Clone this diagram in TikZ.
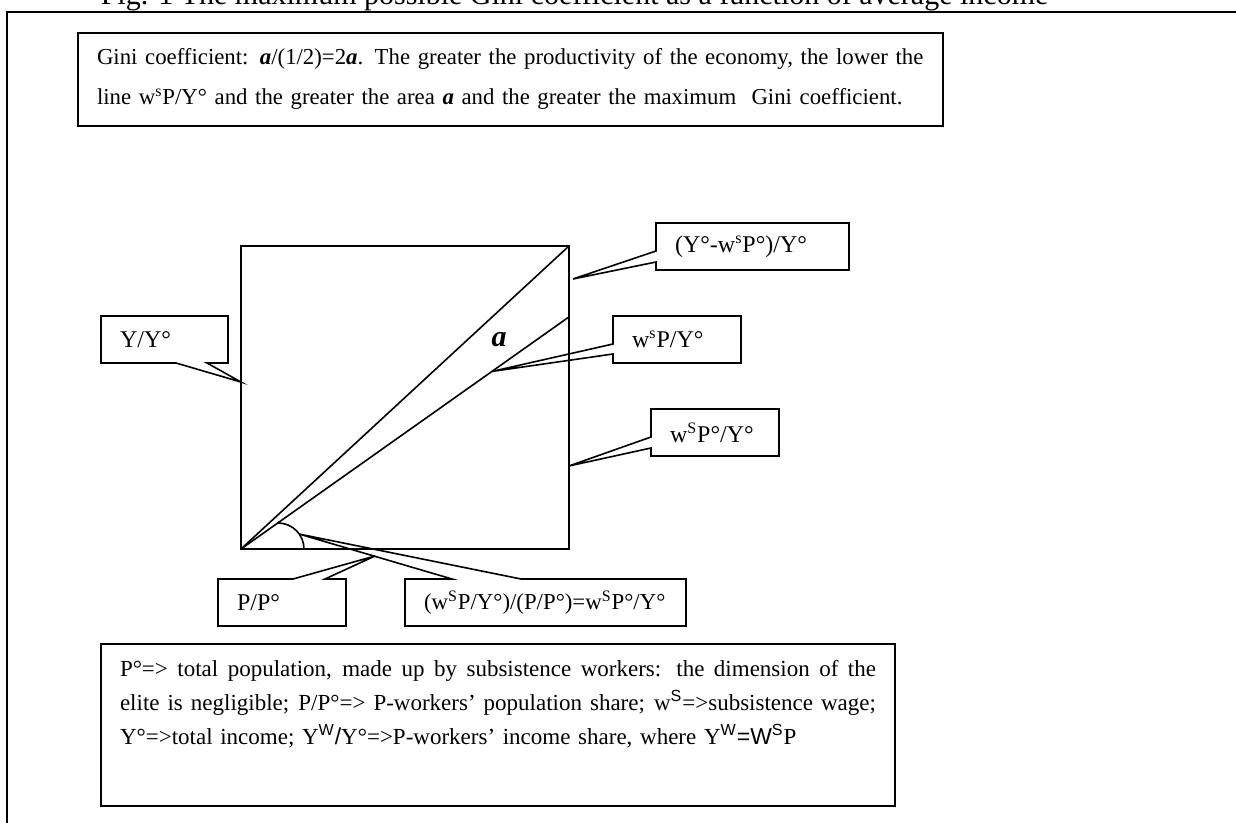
\documentclass[tikz,border=0pt]{standalone}
\usepackage{fontspec}
\setmainfont{Liberation Serif}
\setsansfont{Liberation Sans}
\usetikzlibrary{calc}

\begin{document}
\begin{tikzpicture}[x=.5pt, y=-.5pt, line width=.8pt,
	callbox/.style={anchor=north west, outer sep=0pt, inner xsep=9.5pt, inner ysep=0pt,
		minimum height=23.5pt, align=left, font=\fontsize{12}{14}\selectfont},
	textbox/.style={draw, anchor=north west, outer sep=0pt, inner xsep=9.5pt, inner ysep=0pt,
		align=left}]
	\clip (0,0) rectangle (1236,823);
	\draw[line width=1.2pt] (1236,12) -- (7,12) -- (7,823);
	\node[anchor=base west, inner sep=0pt, font=\fontsize{15}{17}\selectfont] (title) at (100,5)
		{Fig. 1 The maximum possible Gini coefficient as a function of average income};
	\node[textbox, text width=413.5pt, text height=15.75pt, text depth=30.75pt,
		font=\fontsize{11.4}{20}\selectfont] (gini) at (78,33)
		{\mbox{Gini coefficient: \textbf{\textit{a}}/(1/2)=2\textbf{\textit{a}}. The greater the productivity of the economy, the lower the}\\
		\mbox{line w\textsuperscript{s}P/Y° and the greater the area \textbf{\textit{a}} and the greater the maximum\ \ Gini coefficient.}};

	\node[draw, anchor=south west, outer sep=0pt, minimum width=164pt, minimum height=151.5pt] (sq) at (241,549) {};
	\coordinate (ws) at ($(sq.south east)!.766!(sq.north east)$);
	\draw (sq.south west) -- (sq.north east);
	\draw (sq.south west) -- (ws);
	\node[font=\fontsize{15}{16}\selectfont\bfseries\itshape] (a) at (499,340) {a};
	\coordinate (arcc) at ($(sq.south west)+(37,0)$);
	\draw ($(arcc)+(0,-26)$) arc[start angle=90, end angle=0, radius=13pt];

	\node[callbox, text width=44.5pt] (yy) at (101,316) {Y/Y°};
	\coordinate (yytip) at ($(sq.north west)!.449!(sq.south west)$);
	\draw (yy.north west) -- (yy.north east) -- (yy.south east) -- ($(yy.south west)+(106,0)$)
		-- (yytip) -- ($(yy.south west)+(75,0)$) -- (yy.south west) -- cycle;

	\node[callbox, text width=77.5pt] (ymws) at (656,223) {(Y°-w\textsuperscript{s}P°)/Y°};
	\coordinate (ymwstip) at ($(sq.north east)+(4,33)$);
	\draw (ymws.north west) -- (ymws.north east) -- (ymws.south east) -- (ymws.south west)
		-- ($(ymws.north west)+(0,39)$) -- (ymwstip) -- ($(ymws.north west)+(0,28)$) -- cycle;

	\node[callbox, text width=45pt] (wsp) at (613,316) {w\textsuperscript{s}P/Y°};
	\coordinate (wsptip) at ($(sq.south west)!.765!(ws)$);
	\draw (wsp.north west) -- (wsp.north east) -- (wsp.south east) -- (wsp.south west)
		-- ($(wsp.north west)+(0,38)$) -- (wsptip) -- ($(wsp.north west)+(0,28)$) -- cycle;

	\node[callbox, text width=45pt] (wspo) at (651,409) {w\textsuperscript{S}P°/Y°};
	\coordinate (wspotip) at ($(sq.north east)!.726!(sq.south east)$);
	\draw (wspo.north west) -- (wspo.north east) -- (wspo.south east) -- (wspo.south west)
		-- ($(wspo.north west)+(0,39)$) -- (wspotip) -- ($(wspo.north west)+(0,28)$) -- cycle;

	\node[callbox, text width=45pt] (pp) at (218,579) {P/P°};
	\coordinate (pptip) at (375,556);
	\draw (pp.north west) -- ($(pp.north west)+(75,0)$) -- (pptip) -- ($(pp.north west)+(107,0)$)
		-- (pp.north east) -- (pp.south east) -- (pp.south west) -- cycle;

	\node[callbox, text width=121.5pt, font=\fontsize{11.4}{14}\selectfont] (ratio) at (405,579)
		{(w\textsuperscript{S}P/Y°)/(P/P°)=w\textsuperscript{S}P°/Y°};
	\coordinate (ratiotip) at ($(arcc)+(35:13pt)$);
	\draw (ratio.north west) -- ($(ratio.north west)+(47,0)$) -- (ratiotip) -- ($(ratio.north west)+(116,0)$)
		-- (ratio.north east) -- (ratio.south east) -- (ratio.south west) -- cycle;

	\node[textbox, text width=378pt, text height=16pt, text depth=65pt,
		font=\fontsize{11.5}{17}\selectfont] (legend) at (101,644)
		{\makebox[378pt][s]{\spaceskip=0pt\xspaceskip=0pt P°=> total population, made up by subsistence workers: the dimension of the}\\
		\makebox[378pt][s]{\spaceskip=0pt\xspaceskip=0pt elite is negligible; P/P°=> P-workers’ population share; w\textsuperscript{\sffamily S}=>subsistence wage;}\\
		Y°=>total income; Y\textsuperscript{\sffamily W}{\sffamily /}Y°=>P-workers’ income share, where Y\textsuperscript{\sffamily W}{\sffamily =W}\textsuperscript{\sffamily S}P};
\end{tikzpicture}
\end{document}
